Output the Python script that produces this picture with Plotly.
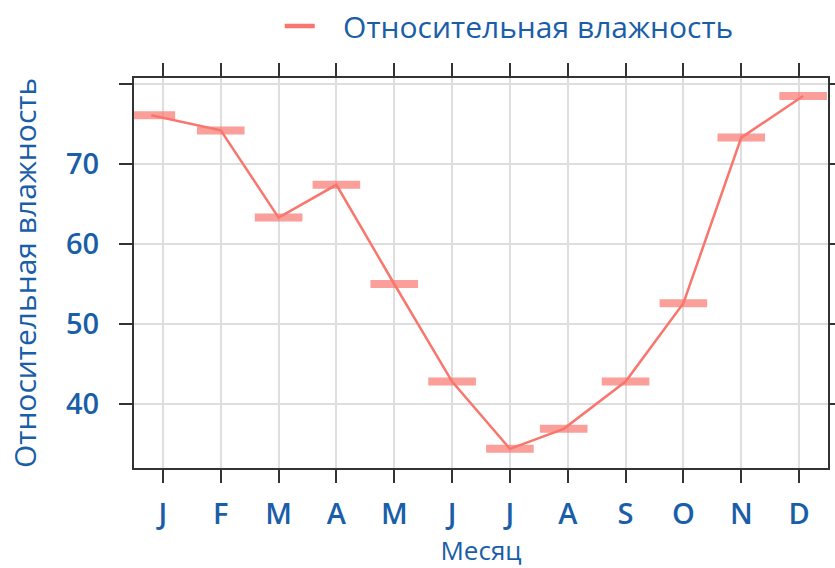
import plotly.graph_objects as go

months = ["J", "F", "M", "A", "M", "J", "J", "A", "S", "O", "N", "D"]
month_x = [-0.2, 1, 2, 3, 4, 5, 6, 6.93, 8, 9, 10, 11.07]
humidity = [76.1, 74.2, 63.3, 67.4, 55.0, 42.8, 34.4, 36.9, 42.8, 52.6, 73.3, 78.5]
y_ticks = [40, 50, 60, 70, 80]
y_ticktext = ["40", "50", "60", "70", ""]
series_name = "Относительная влажность"

BLUE = "#1a5ea8"
RED = "#F8766D"
FONT = "Open Sans"

fig = go.Figure()
fig.add_trace(go.Scatter(
    x=month_x, y=humidity, mode="markers", showlegend=False,
    marker=dict(symbol="line-ew", size=34, color="rgba(248,118,109,0.7)",
                line=dict(width=8, color="rgba(248,118,109,0.7)")),
    hoverinfo="skip"))
fig.add_trace(go.Scatter(
    x=month_x, y=humidity, mode="lines", name=series_name, showlegend=False,
    line=dict(color=RED, width=2.5)))
# legend entry (thicker sample line, as in the reference)
fig.add_trace(go.Scatter(
    x=[None], y=[None], mode="lines", name="\u00a0\u00a0\u00a0" + series_name,
    line=dict(color=RED, width=4.5)))

axis_common = dict(
    showline=True, linecolor="#333333", linewidth=2, mirror="ticks",
    ticks="outside", ticklen=13, tickwidth=2, tickcolor="#333333",
    showgrid=True, gridcolor="#dedede", gridwidth=2, zeroline=False,
    tickfont=dict(family=FONT, size=29, color=BLUE, weight=600),
)

fig.update_layout(
    width=835, height=568,
    margin=dict(l=134, r=7, t=78, b=100, autoexpand=False),
    paper_bgcolor="white", plot_bgcolor="white",
    font=dict(family=FONT, color=BLUE),
    xaxis=dict(range=[-0.5, 11.5], tickvals=list(range(12)), ticktext=months,
               ticklabelstandoff=6,
               title=dict(text="Месяц", font=dict(family=FONT, size=26, color=BLUE), standoff=20),
               **axis_common),
    yaxis=dict(range=[32, 80.75], tickvals=y_ticks, ticktext=y_ticktext,
               ticklabelstandoff=14,
               title=dict(text="Относительная влажность", font=dict(family=FONT, size=30, color=BLUE), standoff=21),
               **axis_common),
    legend=dict(orientation="h", x=0.335, xref="container", xanchor="left",
                y=1.0, yref="container", yanchor="top",
                font=dict(family=FONT, size=30, color=BLUE), bgcolor="rgba(0,0,0,0)"),
)

fig.write_html("out.html", config={"displayModeBar": False},
               post_script="document.body.style.margin='0px';")
